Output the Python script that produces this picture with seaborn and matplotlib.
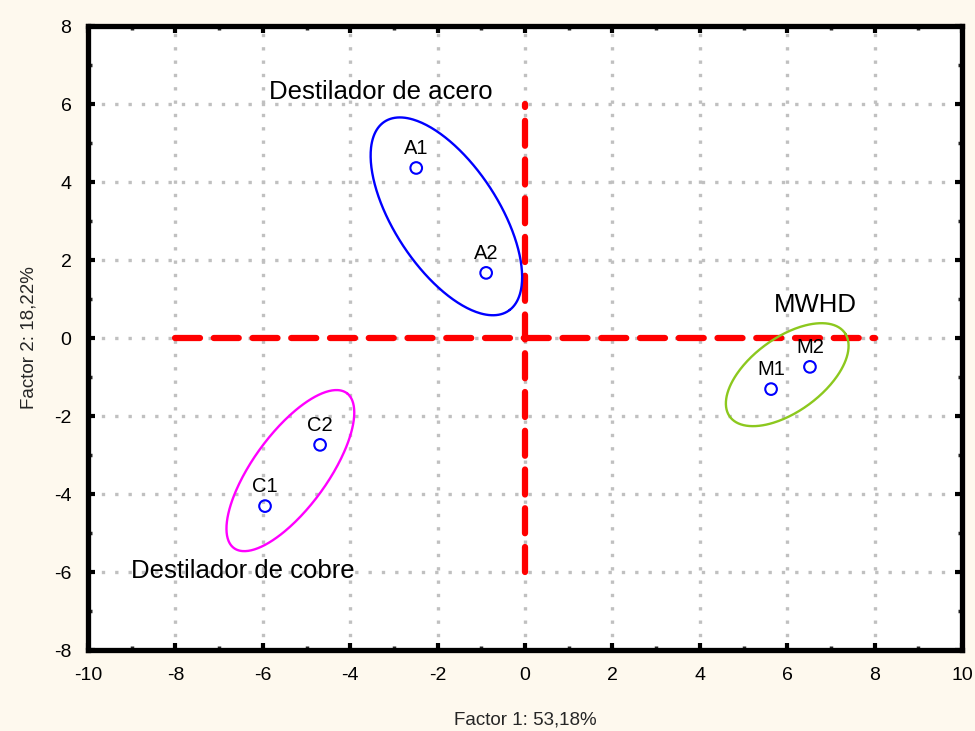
import numpy as np
import pandas as pd
import matplotlib
matplotlib.use("Agg")
import matplotlib.pyplot as plt
import seaborn as sns
from matplotlib.ticker import MultipleLocator

# Factor scores of the samples
labels = ["A1", "A2", "C1", "C2", "M1", "M2"]
factor1 = [-2.49, -0.89, -5.95, -4.69, 5.63, 6.52]
factor2 = [4.36, 1.67, -4.31, -2.74, -1.31, -0.74]

# Group ellipses: centre, semi-axis vector a, conjugate semi-axis vector b (data units)
groups = ["Destilador de acero", "Destilador de cobre", "MWHD"]
group_colors = ["#0000FF", "#FF00FF", "#8CC81E"]
ell_center = [(-1.80, 3.12), (-5.37, -3.40), (6.00, -0.94)]
ell_a = [(1.45, -2.40), (1.31, 1.97), (1.33, 1.05)]
ell_b = [(0.95, 0.82), (0.65, -0.62), (0.45, -0.80)]
group_text_pos = [(-3.3, 6.3), (-6.45, -5.97), (6.64, 0.85)]

# Reference axes through the origin
h_axis_x = [-8, 8]
h_axis_y = [0, 0]
v_axis_x = [0, 0]
v_axis_y = [-6, 6]

sns.set_theme(style="white")
plt.rcParams["font.family"] = ["Liberation Sans", "DejaVu Sans"]
plt.rcParams["axes.unicode_minus"] = False

fig = plt.figure(figsize=(9.75, 7.31), dpi=100, facecolor="#FEF9EE")
ax = fig.add_axes([0.0903, 0.1108, 0.8964, 0.8536])
ax.set_facecolor("white")

# dashed origin axes
ax.plot(h_axis_x, h_axis_y, color="#FF0000", lw=4.5, dashes=(4, 2.2), zorder=2,
        dash_capstyle="round")
ax.plot(v_axis_x, v_axis_y, color="#FF0000", lw=4.5, dashes=(4, 2.2), zorder=2,
        dash_capstyle="round")

# ellipses
t = np.linspace(0, 2 * np.pi, 300)
for c, a, b, col in zip(ell_center, ell_a, ell_b, group_colors):
    ex = c[0] + a[0] * np.cos(t) + b[0] * np.sin(t)
    ey = c[1] + a[1] * np.cos(t) + b[1] * np.sin(t)
    ax.plot(ex, ey, color=col, lw=1.7, zorder=3)

df = pd.DataFrame({"f1": factor1, "f2": factor2, "label": labels})
sns.scatterplot(data=df, x="f1", y="f2", ax=ax, marker="o", s=70,
                facecolor="none", edgecolor="#0000FF", linewidth=1.5, zorder=4)
for x, y, lab in zip(factor1, factor2, labels):
    ax.text(x, y + 0.25, lab, ha="center", va="bottom", fontsize=14.5, color="black", zorder=5)

for g, (x, y) in zip(groups, group_text_pos):
    ax.text(x, y, g, ha="center", va="center", fontsize=18.5, color="black", zorder=5)

ax.set_xlim(-10, 10)
ax.set_ylim(-8, 8)
ax.xaxis.set_major_locator(MultipleLocator(2))
ax.xaxis.set_minor_locator(MultipleLocator(1))
ax.yaxis.set_major_locator(MultipleLocator(2))
ax.yaxis.set_minor_locator(MultipleLocator(1))
ax.grid(True, which="major", color="#C0C0C0", linestyle=(0, (1, 3)), lw=2.4)
ax.tick_params(which="major", direction="in", length=5, width=3, labelsize=14,
               colors="black", pad=12, bottom=True, left=True, top=True, right=True)
ax.tick_params(which="minor", direction="in", length=3, width=2.5,
               bottom=True, left=True, top=True, right=True)
for s in ax.spines.values():
    s.set_visible(True)
    s.set_color("black")
    s.set_linewidth(3.8)

ax.set_xlabel("Factor 1: 53,18%", fontsize=13.5, labelpad=20)
ax.set_ylabel("Factor 2: 18,22%", fontsize=13.5, labelpad=12)

fig.savefig("out.png", dpi=100, facecolor=fig.get_facecolor())
